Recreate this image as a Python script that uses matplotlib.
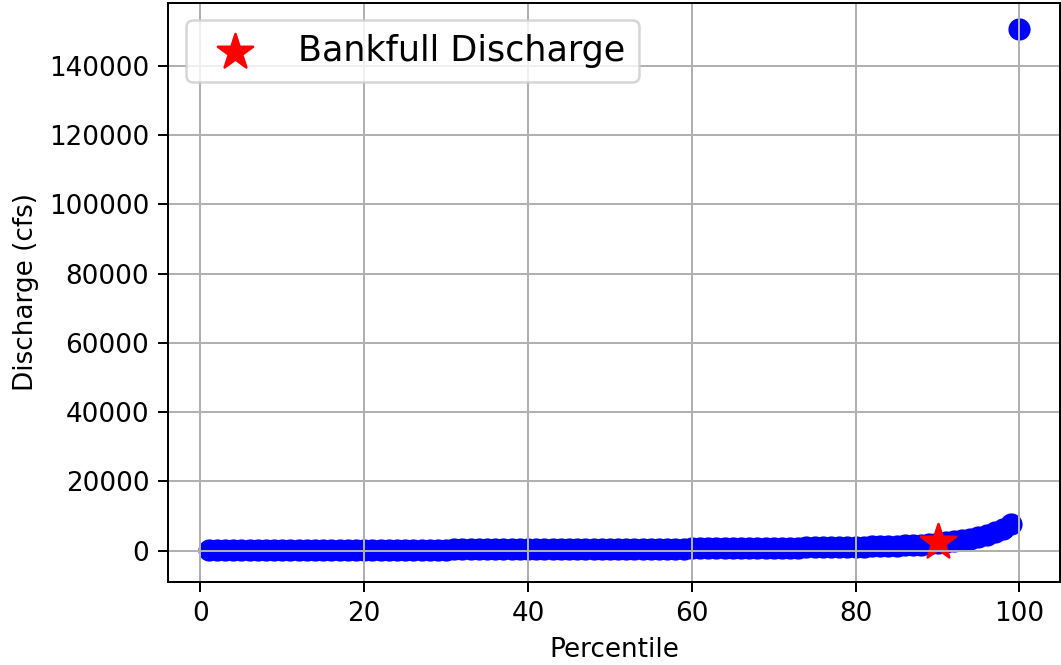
import numpy as np
import matplotlib
matplotlib.use("Agg")
import matplotlib.pyplot as plt

# Percentiles of daily discharge
percentiles = list(range(1, 101))
discharge = [
    60, 80, 95, 110, 120, 135, 145, 155, 165, 175,
    185, 195, 200, 210, 215, 225, 230, 240, 250, 260,
    265, 275, 280, 290, 300, 305, 315, 320, 330, 340,
    345, 355, 360, 370, 380, 385, 395, 405, 415, 425,
    435, 445, 455, 465, 475, 485, 495, 505, 515, 525,
    535, 545, 555, 565, 575, 585, 595, 610, 625, 640,
    655, 670, 690, 705, 720, 740, 760, 780, 800, 825,
    850, 875, 900, 930, 960, 990, 1020, 1060, 1100, 1150,
    1200, 1260, 1320, 1390, 1460, 1550, 1650, 1780, 1950, 2150,
    2400, 2700, 3050, 3450, 3900, 4500, 5300, 6400, 7800, 150600,
]

# Bankfull discharge point
bankfull_pct = 90
bankfull_q = 2600

fig = plt.figure(figsize=(1061 / 180, 665 / 180), dpi=180)
ax = fig.add_axes([168 / 1061, 1 - 582 / 665, (1060 - 168) / 1061, (582 - 2.7) / 665])

ax.scatter(percentiles, discharge, s=62, c="blue")
ax.scatter(bankfull_pct, bankfull_q, s=220, c="red", marker="*", label="Bankfull Discharge")

ax.set_xlim(-3.95, 104.95)
ax.set_ylim(-9040, 158200)
ax.set_xlabel("Percentile", fontsize=10.5)
ax.set_ylabel("Discharge (cfs)", fontsize=10.5)
ax.tick_params(labelsize=10.5, length=4)
ax.grid(True)
ax.legend(loc="upper left", fontsize=14)

fig.savefig("out.png", dpi=180)
